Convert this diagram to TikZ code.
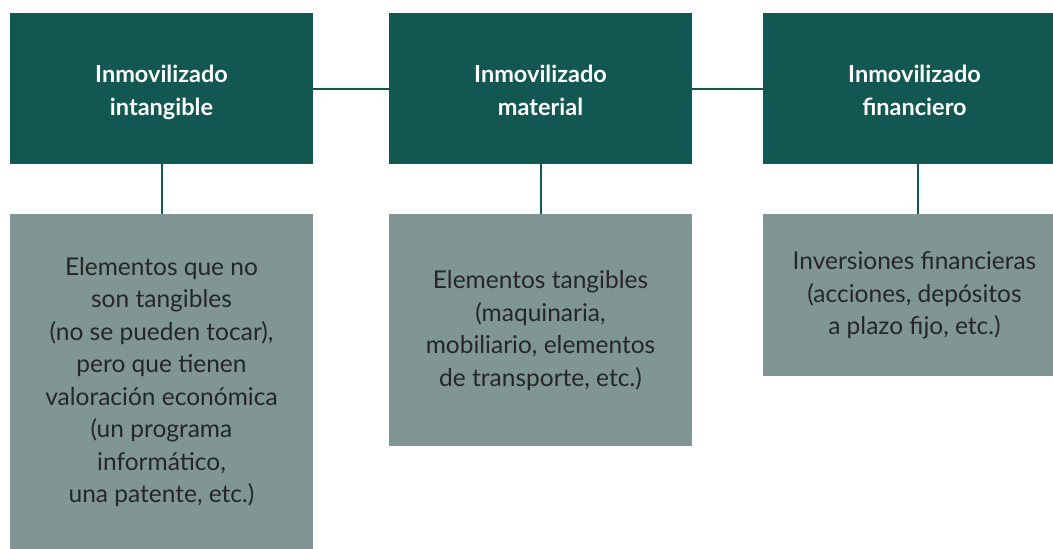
\documentclass[tikz,border=0pt]{standalone}
\usepackage{fontspec}
\setmainfont{Lato}
\usetikzlibrary{positioning}
\definecolor{tealdark}{HTML}{125752}
\definecolor{tealgrey}{HTML}{7F9694}
\newcommand{\headstrut}{\rule{0pt}{25pt}}

\begin{document}
\begin{tikzpicture}[
		x=1pt, y=-1pt,
		node distance=50pt,
		link/.style={draw=tealdark, line width=2pt},
		headbox/.style={fill=tealdark, text=white, inner sep=0pt, minimum width=303pt, minimum height=151pt, align=center, font=\fontsize{23.5}{32.5}\selectfont\bfseries},
		infobox/.style={fill=tealgrey, text=black!85, inner sep=0pt, minimum width=303pt, align=center, font=\fontsize{24.5}{32.5}\selectfont},
	]
		\useasboundingbox (0,0) rectangle (1053,549);
		
		\node[headbox] (intang) at (161.5,88.5) {\headstrut Inmovilizado\\intangible};
		\node[headbox] (mater) at (540.5,88.5) {\headstrut Inmovilizado\\material\vphantom{g}};
		\node[headbox] (finan) at (914.5,88.5) {\headstrut Inmovilizado\\financiero\vphantom{g}};
		
		\node[infobox, minimum height=335pt, below=of intang] (intangtxt) {Elementos que no\\son tangibles\\(no se pueden tocar),\\pero que tienen\\valoración económica\\(un programa\\informático,\\una patente, etc.)};
		\node[infobox, minimum height=232pt, below=of mater] (matertxt) {Elementos tangibles\\(maquinaria,\\mobiliario, elementos\\de transporte, etc.)};
		\node[infobox, minimum height=162pt, below=of finan] (finantxt) {Inversiones financieras\\(acciones, depósitos\\a plazo fijo, etc.)};
		
		\draw[link] (intang) -- (mater);
		\draw[link] (mater) -- (finan);
		\draw[link] (intang) -- (intangtxt);
		\draw[link] (mater) -- (matertxt);
		\draw[link] ([xshift=3.5pt]finan.south) -- ([xshift=3.5pt]finantxt.north);
	\end{tikzpicture}
\end{document}
